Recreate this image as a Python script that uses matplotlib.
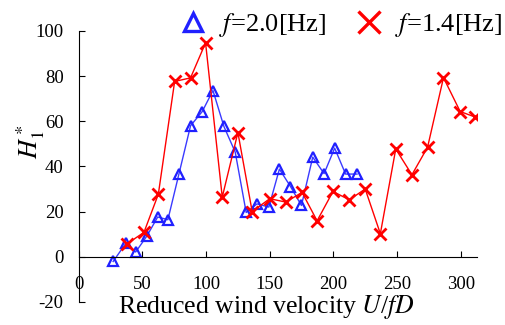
import matplotlib
matplotlib.use("Agg")
import matplotlib.pyplot as plt

# f = 2.0 Hz (blue triangles)
u_20 = [27, 37, 44.7, 53.3, 62, 70, 78.7, 87.8, 97, 105.4, 114, 122.9, 131.5,
        140, 149.3, 157.6, 166.3, 174.9, 183.8, 192.7, 201, 209.6, 218.6]
h_20 = [-2.1, 6.0, 2.1, 9.0, 17.6, 16.4, 36.7, 58.0, 64.3, 73.6, 57.7, 46.3, 19.6,
        23.4, 22.0, 38.8, 31.1, 22.7, 44.1, 36.8, 48.1, 36.6, 36.6]

# f = 1.4 Hz (red crosses)
u_14 = [37.6, 51.2, 62.5, 75.3, 87.8, 99.6, 112.7, 125, 136.2, 150, 162.6, 175.4,
        187.2, 199.7, 212.5, 225, 236.9, 249, 261.7, 274, 286.5, 299.6, 311.6]
h_14 = [5.6, 10.8, 27.7, 77.6, 79.2, 94.7, 26.4, 55.0, 20.0, 25.7, 24.2, 28.5,
        15.9, 28.9, 25.2, 30.0, 10.2, 47.7, 36.3, 48.5, 79.3, 64.3, 61.8]

xticks = [0, 50, 100, 150, 200, 250, 300]
yticks = [-20, 0, 20, 40, 60, 80, 100]

plt.rcParams['font.family'] = ['Liberation Serif', 'DejaVu Serif']
plt.rcParams['mathtext.fontset'] = 'stix'
plt.rcParams['axes.unicode_minus'] = False

fig = plt.figure(figsize=(5.05, 3.25), dpi=100)
ax = fig.add_axes([0.156, 0.071, 0.789, 0.834])

ax.plot(u_20, h_20, color='#3a3aff', lw=1.0, marker='^', ms=7, mfc='none',
        mec='#2020ff', mew=1.6, label=r'$f$=2.0[Hz]')
ax.plot(u_14, h_14, color='#ff0000', lw=1.0, marker='x', ms=8, mec='#ff0000',
        mew=2.0, label=r'$f$=1.4[Hz]')

ax.set_xlim(0, 313)
ax.set_ylim(-20, 100)
ax.set_xticks(xticks)
ax.set_yticks(yticks)

ax.spines['top'].set_visible(False)
ax.spines['right'].set_visible(False)
ax.spines['bottom'].set_position(('data', 0))
ax.tick_params(axis='both', direction='in', length=4, labelsize=13.5)
ax.tick_params(axis='x', pad=14)
ax.tick_params(axis='y', pad=11)

ax.set_xlabel(r'Reduced wind velocity $U$/$fD$', fontsize=18.5, va='center')
ax.xaxis.set_label_coords(0.47, -0.02)
ax.set_ylabel(r'$H_1^*$', fontsize=19)
ax.yaxis.set_label_coords(-0.08, 0.59)

leg = fig.legend(loc='center right', bbox_to_anchor=(1.0, 0.923),
                 bbox_transform=fig.transFigure, ncol=2, frameon=False,
                 fontsize=19, handlelength=1.0, handletextpad=0.5,
                 columnspacing=1.1, markerscale=1.9, borderaxespad=0,
                 borderpad=0.1)
for h in leg.get_lines():
    h.set_linestyle('none')
    h.set_markeredgewidth(2.4)

fig.savefig('out.png', dpi=100)
